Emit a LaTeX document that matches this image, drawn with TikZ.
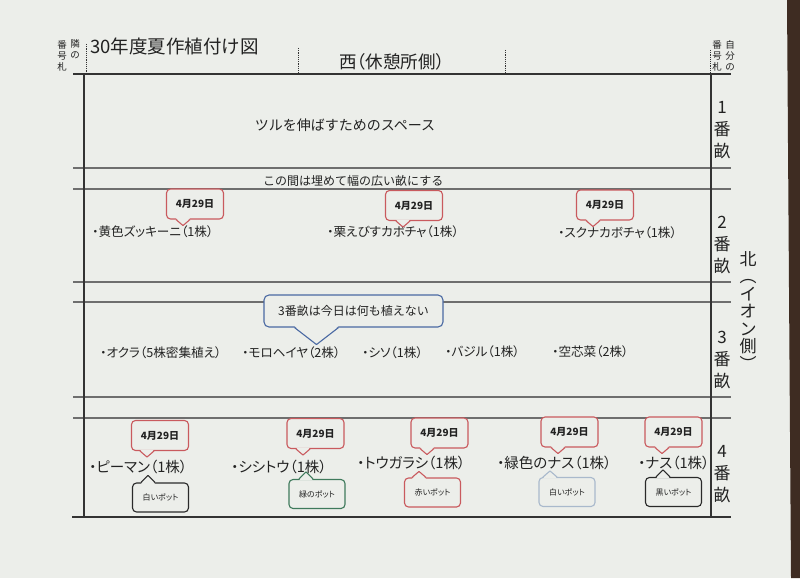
\documentclass[tikz,border=0pt]{standalone}
\usepackage{fontspec}
\setmainfont{Noto Sans CJK JP}
\newfontfamily\pfont{Noto Sans CJK JP}[RawFeature=+palt]
\definecolor{paper}{HTML}{ECEEEA}
\definecolor{tablec}{HTML}{3E2C22}
\definecolor{inkc}{HTML}{222222}
\definecolor{framec}{HTML}{333333}
\definecolor{sepc}{HTML}{6E6E6E}
\definecolor{redc}{HTML}{C95A5E}
\definecolor{greenc}{HTML}{3F7A5C}
\definecolor{blackc}{HTML}{2A2A2A}
\definecolor{lightc}{HTML}{A9B9CC}
\definecolor{bluec}{HTML}{4A69A3}
% pointer below a node: node, dx, depth, half base, colour
\newcommand\ptrdn[5]{%
  \fill[paper] ([xshift=#2pt-#4pt,yshift=1.5pt]#1.south) -- ([xshift=#2pt,yshift=-#3pt]#1.south) -- ([xshift=#2pt+#4pt,yshift=1.5pt]#1.south) -- cycle;
  \draw[draw=#5, line width=1.1pt, line join=round] ([xshift=#2pt-#4pt]#1.south) -- ([xshift=#2pt,yshift=-#3pt]#1.south) -- ([xshift=#2pt+#4pt]#1.south);}
% pointer above a node
\newcommand\ptrup[5]{%
  \fill[paper] ([xshift=#2pt-#4pt,yshift=-1.5pt]#1.north) -- ([xshift=#2pt,yshift=#3pt]#1.north) -- ([xshift=#2pt+#4pt,yshift=-1.5pt]#1.north) -- cycle;
  \draw[draw=#5, line width=1.1pt, line join=round] ([xshift=#2pt-#4pt]#1.north) -- ([xshift=#2pt,yshift=#3pt]#1.north) -- ([xshift=#2pt+#4pt]#1.north);}
\begin{document}
\begin{tikzpicture}[x=1pt,y=-1pt,
  sep/.style={line width=2.2pt, draw=sepc},
  frame/.style={line width=1.8pt, draw=framec},
  tickline/.style={line width=0.6pt, draw=framec, dash pattern=on 1.2pt off 1pt},
  lbl/.style={text=inkc, inner sep=0pt},
  plant/.style={lbl, anchor=west, font=\pfont\fontsize{12.6}{12.6}\selectfont},
  plantb/.style={lbl, anchor=west, font=\pfont\fontsize{14.5}{14.5}\selectfont},
  datebox/.style={draw=redc, line width=1.1pt, rounded corners=4pt, fill=paper, minimum width=57pt, minimum height=30pt, inner sep=0pt, text=inkc, font=\bfseries\fontsize{10}{10}\selectfont},
  potbox/.style={line width=1.1pt, rounded corners=4pt, fill=paper, minimum width=56pt, minimum height=29pt, inner sep=0pt, text=inkc, font=\pfont\fontsize{8}{8}\selectfont},
  vlab/.style={lbl, align=center, font=\fontsize{17}{22}\selectfont},
  smalllab/.style={lbl, align=center, font=\fontsize{9.5}{11}\selectfont},
]
\fill[paper] (0,0) rectangle (800,578);
\fill[tablec] (787,0) -- (800,0) -- (800,578) -- (791,578) -- cycle;
\useasboundingbox (0,0) rectangle (800,578);

% frame
\foreach \y in {168,189,282,302,397,418} \draw[sep] (73,\y) -- (731,\y);
\draw[frame] (73,74) -- (731,74);
\draw[frame] (72,517) -- (731,517);
\draw[frame, line width=1.6pt] (84,74) -- (84,517);
\draw[frame, line width=1.6pt] (711,74) -- (711,517);
\draw[tickline] (86,44) -- (86,73);
\draw[tickline] (298,48) -- (298,73);
\draw[tickline] (505,50) -- (505,73);
\draw[tickline] (710,50) -- (710,73);

% header
\node[lbl, anchor=west, font=\fontsize{18.5}{18.5}\selectfont] (title) at (90,46) {30年度夏作植付け図};
\node[lbl, font=\pfont\fontsize{17.5}{17.5}\selectfont] (westside) at (392,62) {西（休憩所側）};
\node[smalllab] (nb1) at (75,49) {隣\\の};
\node[smalllab] (nb2) at (62,56) {番\\号\\札};
\node[smalllab] (own1) at (730,56) {自\\分\\の};
\node[smalllab] (own2) at (717,56) {番\\号\\札};

% right labels
\node[vlab] (r1) at (722,130) {1\\番\\畝};
\node[vlab] (r2) at (722,245) {2\\番\\畝};
\node[vlab] (r3) at (722,360) {3\\番\\畝};
\node[vlab] (r4) at (722,474) {4\\番\\畝};
\node[lbl, align=center, font=\fontsize{17}{17.5}\selectfont] (northside) at (748,311) {北\\︵\\イ\\オ\\ン\\側\\︶};

% row 1
\node[lbl, font=\fontsize{14}{14}\selectfont] (space) at (345,125) {ツルを伸ばすためのスペース};
\node[lbl, anchor=west, font=\fontsize{12}{12}\selectfont] (merge) at (263,181) {この間は埋めて幅の広い畝にする};

% row 2
\node[plant] (z1) at (92,232) {・黄色ズッキーニ（1株）};
\node[plant] (z2) at (327,232) {・栗えびすカボチャ（1株）};
\node[plant] (z3) at (558,233) {・スクナカボチャ（1株）};
\node[datebox] (d1) at (195,204) {4月29日};
\node[datebox] (d2) at (414,205.5) {4月29日};
\node[datebox] (d3) at (605,205) {4月29日};
\ptrdn{d1}{-12}{6}{7}{redc}
\ptrdn{d2}{-11}{6}{7}{redc}
\ptrdn{d3}{-12}{6}{7}{redc}

% row 3
\node[plant] (o1) at (100,353) {・オクラ（5株密集植え）};
\node[plant] (o2) at (242,353) {・モロヘイヤ（2株）};
\node[plant] (o3) at (362,353) {・シソ（1株）};
\node[plant] (o4) at (445,352) {・バジル（1株）};
\node[plant] (o5) at (552,352) {・空芯菜（2株）};
\node[draw=bluec, line width=1.1pt, rounded corners=5pt, fill=paper, minimum width=179pt, minimum height=32pt, inner sep=0pt, text=inkc, font=\fontsize{12}{12}\selectfont] (b1) at (353.5,311) {3番畝は今日は何も植えない};
\ptrdn{b1}{-37}{17}{22}{bluec}

% row 4
\node[plantb] (q1) at (89,467) {・ピーマン（1株）};
\node[plantb] (q2) at (231,467) {・シシトウ（1株）};
\node[plantb] (q3) at (357,463) {・トウガラシ（1株）};
\node[plantb] (q4) at (497,463) {・緑色のナス（1株）};
\node[plantb] (q5) at (638,463) {・ナス（1株）};
\node[datebox] (d4) at (160,435.5) {4月29日};
\node[datebox] (d5) at (315.5,433.5) {4月29日};
\node[datebox] (d6) at (439.5,433) {4月29日};
\node[datebox] (d7) at (569.5,432) {4月29日};
\node[datebox] (d8) at (673.5,432) {4月29日};
\ptrdn{d4}{-13}{6}{7}{redc}
\ptrdn{d5}{-12.5}{6}{7}{redc}
\ptrdn{d6}{-12.5}{6}{7}{redc}
\ptrdn{d7}{-11.5}{6}{7}{redc}
\ptrdn{d8}{-11.5}{6}{7}{redc}
\node[potbox, draw=blackc] (p1) at (160.5,497.5) {白いポット};
\node[potbox, draw=greenc] (p2) at (317,494) {緑のポット};
\node[potbox, draw=redc] (p3) at (432.5,492.5) {赤いポット};
\node[potbox, draw=lightc] (p4) at (567,492) {白いポット};
\node[potbox, draw=blackc] (p5) at (673.5,492) {黒いポット};
\ptrup{p1}{-12.5}{7}{7}{blackc}
\ptrup{p2}{-11}{7}{7}{greenc}
\ptrup{p3}{-13.5}{6}{7}{redc}
\ptrup{p4}{-17}{6}{7}{lightc}
\ptrup{p5}{-10.5}{7}{7}{blackc}
\end{tikzpicture}
\end{document}
